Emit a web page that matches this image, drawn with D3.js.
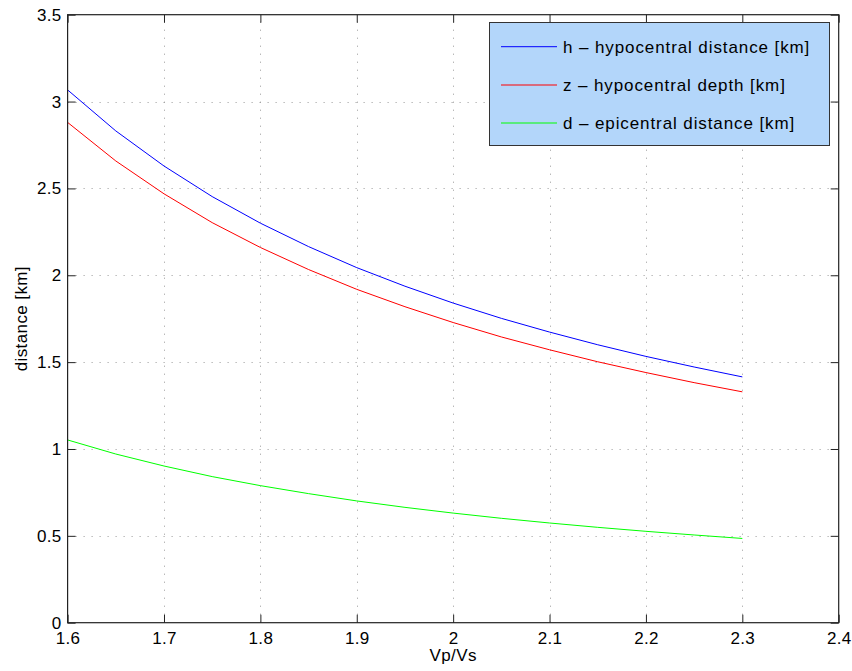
<!DOCTYPE html>
<html>
<head>
<meta charset="utf-8">
<script src="https://cdn.jsdelivr.net/npm/d3@7"></script>
<style>
  html, body { margin: 0; padding: 0; background: #fff; }
  svg { display: block; }
  text { font-family: "Liberation Sans", Arial, Helvetica, sans-serif; fill: #000; }
</style>
</head>
<body>
<svg id="chart" width="852" height="671"></svg>
<script>
// Vp/Vs ratio samples
const vpvs = [1.60, 1.65, 1.70, 1.75, 1.80, 1.85, 1.90, 1.95, 2.00, 2.05, 2.10, 2.15, 2.20, 2.25, 2.30];
// h – hypocentral distance [km]
const hypoDist = [3.067, 2.831, 2.629, 2.453, 2.300, 2.165, 2.044, 1.937, 1.840, 1.752, 1.673, 1.600, 1.533, 1.472, 1.415];
// z – hypocentral depth [km]
const hypoDepth = [2.880, 2.658, 2.469, 2.303, 2.160, 2.033, 1.919, 1.819, 1.728, 1.645, 1.571, 1.502, 1.440, 1.382, 1.329];
// d – epicentral distance [km]
const epiDist = [1.052, 0.971, 0.902, 0.841, 0.789, 0.743, 0.701, 0.664, 0.631, 0.601, 0.574, 0.549, 0.526, 0.505, 0.485];

const xTicks = [1.6, 1.7, 1.8, 1.9, 2.0, 2.1, 2.2, 2.3, 2.4];
const yTicks = [0, 0.5, 1, 1.5, 2, 2.5, 3, 3.5];

const seriesNames = ["h \u2013 hypocentral distance [km]", "z \u2013 hypocentral depth [km]", "d \u2013 epicentral distance [km]"];
const seriesColors = ["#0000ff", "#ff0000", "#00ff00"];
const seriesValues = [hypoDist, hypoDepth, epiDist];

const svg = d3.select("#chart");
const plot = { left: 67.6, right: 838.7, top: 14.7, bottom: 622.7 };

const x = d3.scaleLinear().domain([1.6, 2.4]).range([plot.left, plot.right]);
const y = d3.scaleLinear().domain([0, 3.5]).range([plot.bottom, plot.top]);

const fontSize = 17;
const tickSpacing = "0.3px";

// dotted grid
const grid = svg.append("g").attr("stroke", "#999").attr("stroke-width", 1)
  .attr("stroke-dasharray", "1,7");
grid.selectAll("line.v").data(xTicks.slice(1, -1)).join("line")
  .attr("x1", d => Math.round(x(d)) + 0.5).attr("x2", d => Math.round(x(d)) + 0.5)
  .attr("y1", plot.bottom).attr("y2", plot.top);
grid.selectAll("line.h").data(yTicks.slice(1, -1)).join("line")
  .attr("y1", d => Math.round(y(d)) + 0.5).attr("y2", d => Math.round(y(d)) + 0.5)
  .attr("x1", plot.left).attr("x2", plot.right);

// data lines
const line = d3.line().x(d => x(d[0])).y(d => y(d[1]));
seriesValues.forEach((vals, i) => {
  svg.append("path")
    .datum(vpvs.map((v, j) => [v, vals[j]]))
    .attr("fill", "none")
    .attr("stroke", seriesColors[i])
    .attr("stroke-width", 1)
    .attr("d", line);
});

// axes with inward ticks on all four sides
const tickLen = 8;
const bottomAxis = d3.axisBottom(x).tickValues(xTicks).tickSizeInner(-tickLen).tickSizeOuter(0)
  .tickPadding(9).tickFormat(d3.format("~g"));
const topAxis = d3.axisTop(x).tickValues(xTicks).tickSizeInner(-tickLen).tickSizeOuter(0).tickFormat("");
const leftAxis = d3.axisLeft(y).tickValues(yTicks).tickSizeInner(-tickLen).tickSizeOuter(0)
  .tickPadding(6).tickFormat(d3.format("~g"));
const rightAxis = d3.axisRight(y).tickValues(yTicks).tickSizeInner(-tickLen).tickSizeOuter(0).tickFormat("");

function styleAxis(g) {
  g.select(".domain").remove();
  g.selectAll(".tick line").attr("stroke", "#222");
  g.selectAll(".tick text").attr("font-size", fontSize)
    .attr("letter-spacing", tickSpacing)
    .attr("font-family", "Liberation Sans, Arial, Helvetica, sans-serif").attr("fill", "#000");
}
svg.append("g").attr("transform", `translate(0,${plot.bottom})`).call(bottomAxis).call(styleAxis);
svg.append("g").attr("transform", `translate(0,${plot.top})`).call(topAxis).call(styleAxis);
svg.append("g").attr("transform", `translate(${plot.left},0)`).call(leftAxis).call(styleAxis);
svg.append("g").attr("transform", `translate(${plot.right},0)`).call(rightAxis).call(styleAxis);

// plot frame
svg.append("rect")
  .attr("x", plot.left).attr("y", plot.top)
  .attr("width", plot.right - plot.left).attr("height", plot.bottom - plot.top)
  .attr("fill", "none").attr("stroke", "#222").attr("stroke-width", 1.2);

// axis titles
svg.append("text")
  .attr("x", (plot.left + plot.right) / 2).attr("y", 661)
  .attr("text-anchor", "middle").attr("font-size", fontSize)
  .attr("letter-spacing", "0.4px")
  .text("Vp/Vs");
svg.append("text")
  .attr("transform", `translate(27,${(plot.top + plot.bottom) / 2}) rotate(-90)`)
  .attr("text-anchor", "middle").attr("font-size", fontSize)
  .attr("letter-spacing", "0.4px")
  .text("distance [km]");

// legend
const legend = svg.append("g");
legend.append("rect")
  .attr("x", 489.5).attr("y", 22.5).attr("width", 340).attr("height", 123)
  .attr("fill", "#b3d6fa").attr("stroke", "#333").attr("stroke-width", 1);
const rowY = [46.7, 85, 123];
seriesNames.forEach((name, i) => {
  legend.append("line")
    .attr("x1", 501).attr("x2", 557).attr("y1", rowY[i]).attr("y2", rowY[i])
    .attr("stroke", seriesColors[i]).attr("stroke-width", 1);
  legend.append("text")
    .attr("x", 563).attr("y", rowY[i]).attr("dy", "0.36em")
    .attr("font-size", fontSize)
    .attr("letter-spacing", "0.9px")
    .text(name);
});
</script>
</body>
</html>
